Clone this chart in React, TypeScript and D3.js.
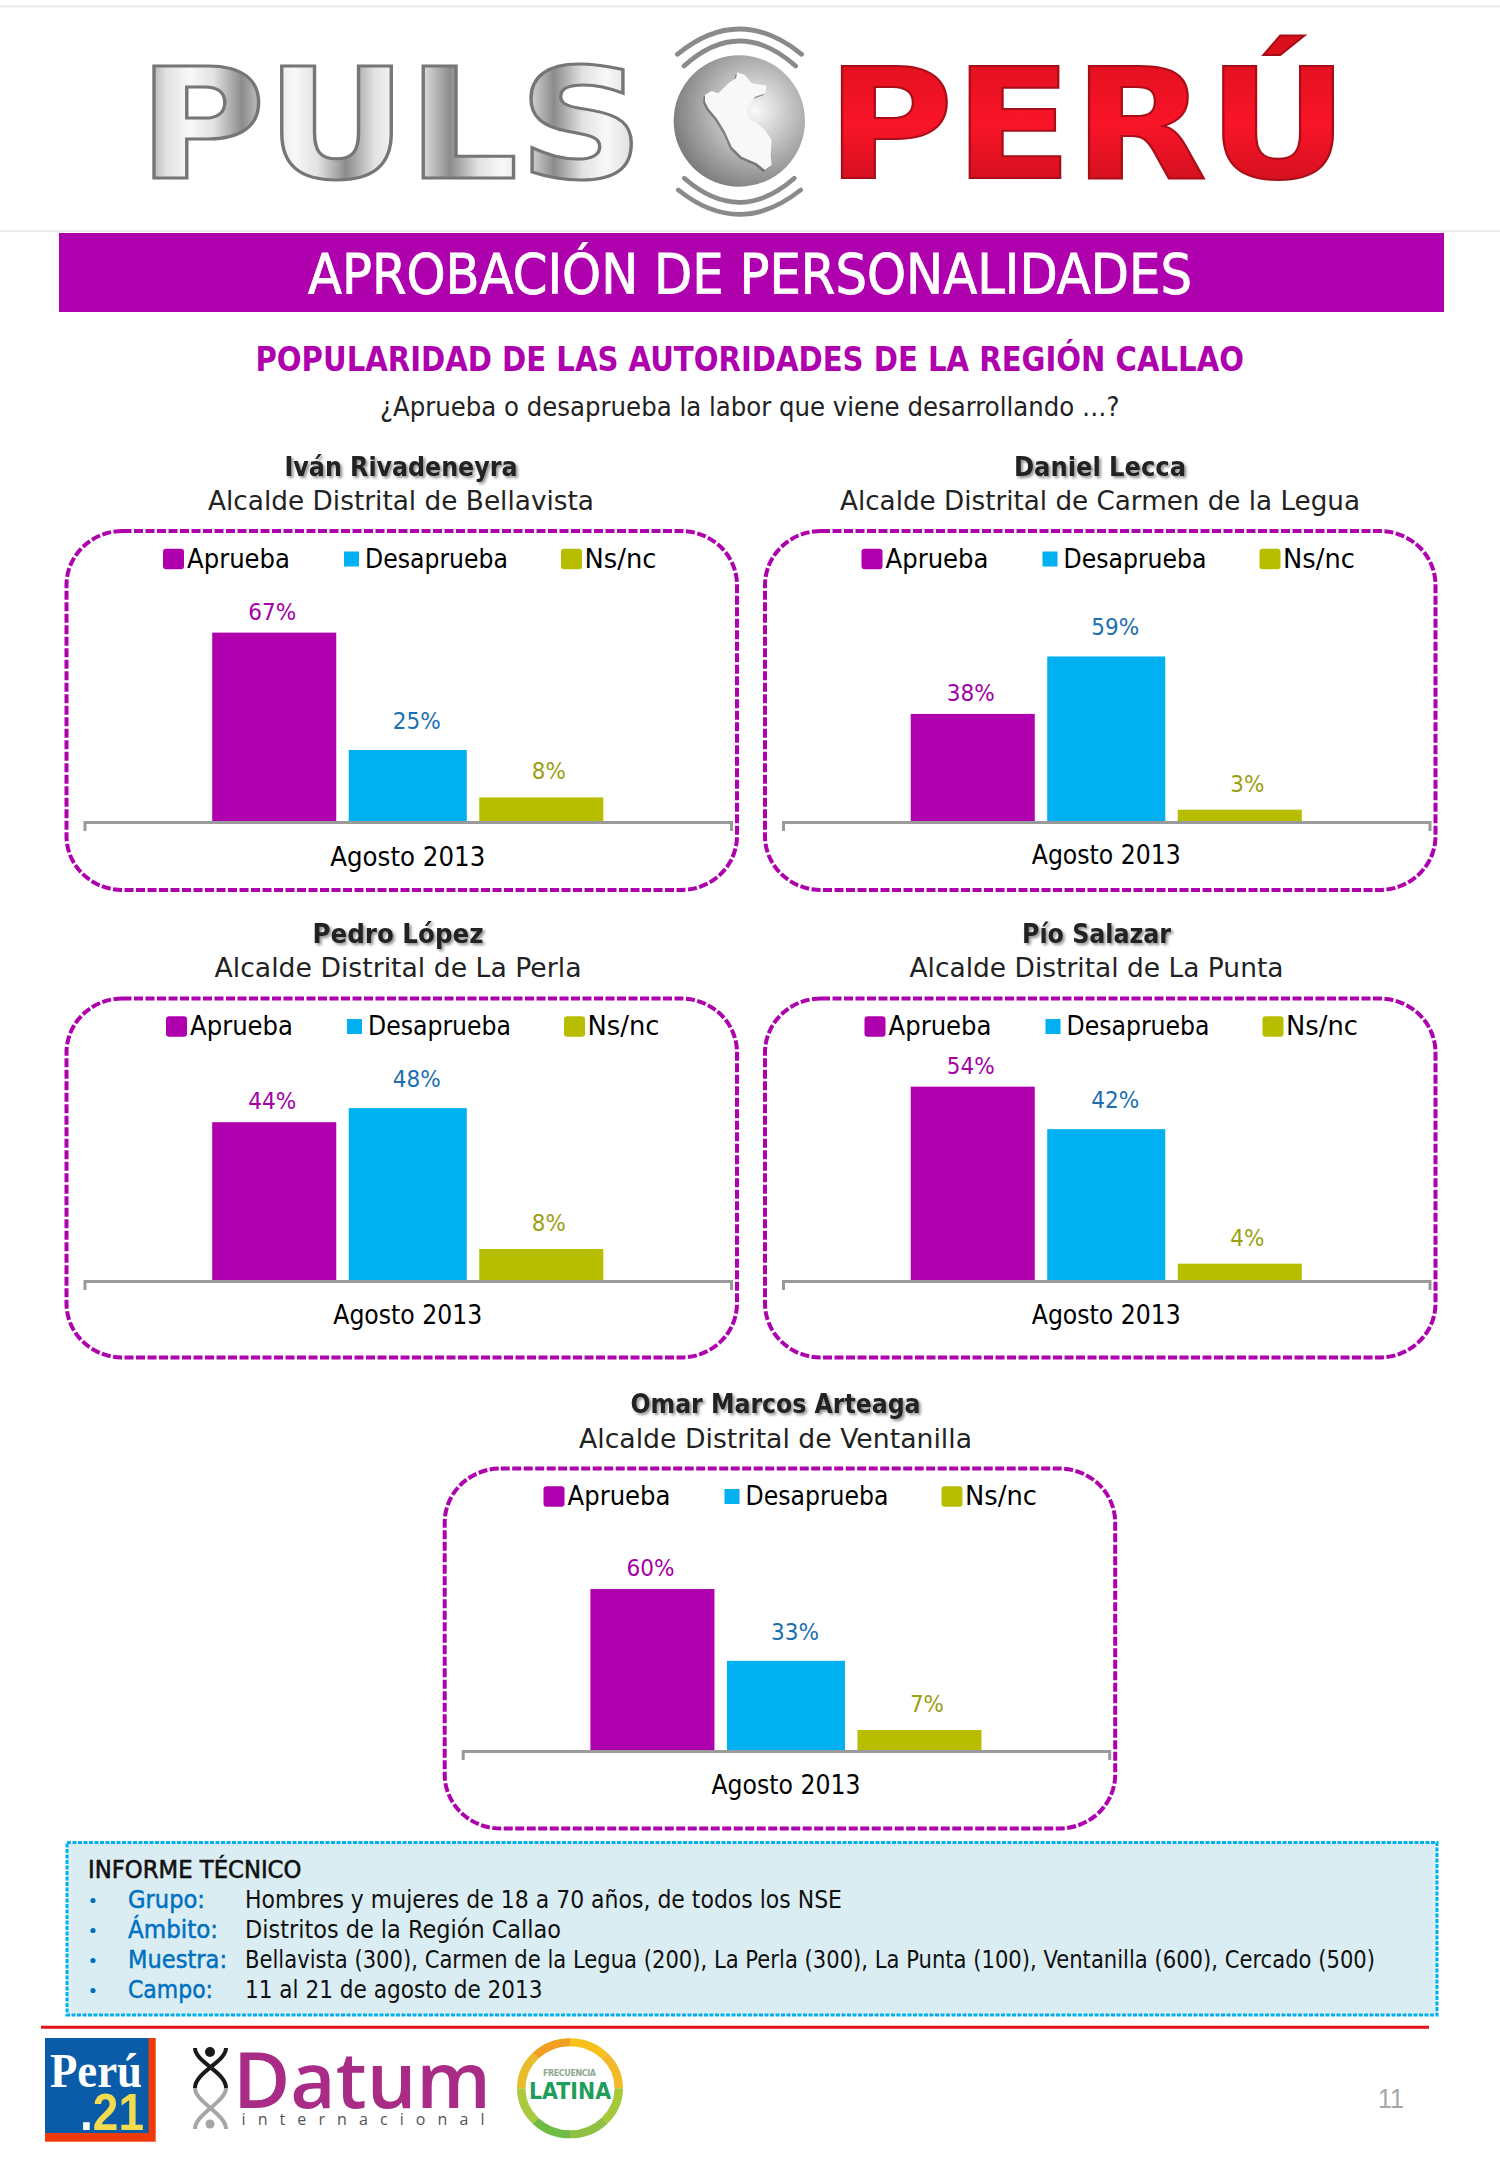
import React, { useEffect, useRef } from "react";
import * as d3 from "d3";

const seriesNames = ["Aprueba", "Desaprueba", "Ns/nc"];
const category = "Agosto 2013";

const officials = ["Iván Rivadeneyra", "Daniel Lecca", "Pedro López", "Pío Salazar", "Omar Marcos Arteaga"];
const offices = [
  "Alcalde Distrital de Bellavista",
  "Alcalde Distrital de Carmen de la Legua",
  "Alcalde Distrital de La Perla",
  "Alcalde Distrital de La Punta",
  "Alcalde Distrital de Ventanilla",
];

const aprueba = [67, 38, 44, 54, 60];
const desaprueba = [25, 59, 48, 42, 33];
const nsnc = [8, 3, 8, 4, 7];

// each little chart had its own hidden value axis in the original
const yDomains = [
  [-0.8, 70.8],
  [-1.5, 71.6],
  [-1.1, 55.7],
  [-0.9, 55.6],
  [-0.9, 74.3],
];

const fichaRows = [
  ["Grupo:", "Hombres y mujeres de 18 a 70 años, de todos los NSE"],
  ["Ámbito:", "Distritos de la Región Callao"],
  ["Muestra:", "Bellavista (300), Carmen de la Legua (200), La Perla (300), La Punta (100), Ventanilla (600), Cercado (500)"],
  ["Campo:", "11 al 21 de agosto de 2013"],
];

// layout only, no values here
const panels = [
  { boxX: 66.5, boxY: 531, boxH: 359, axisY: 822, legendX: 163, nameCx: 401, nameY: 475.7, nameW: 233, titleY: 510, titleW: 386, catDy: 44, catW: 155 },
  { boxX: 765, boxY: 531, boxH: 359, axisY: 822, legendX: 861.5, nameCx: 1100, nameY: 475.7, nameW: 172, titleY: 510, titleW: 520, catDy: 42, catW: 149 },
  { boxX: 66.5, boxY: 998.5, boxH: 359, axisY: 1281, legendX: 166, nameCx: 398, nameY: 942.7, nameW: 171, titleY: 976.7, titleW: 367, catDy: 43, catW: 149 },
  { boxX: 765, boxY: 998.5, boxH: 359, axisY: 1281, legendX: 864.5, nameCx: 1096.5, nameY: 942.7, nameW: 149, titleY: 976.7, titleW: 374, catDy: 43, catW: 149 },
  { boxX: 444.7, boxY: 1468.5, boxH: 360, axisY: 1751, legendX: 543.5, nameCx: 775.5, nameY: 1413, nameW: 290, titleY: 1448, titleW: 393, catDy: 43, catW: 149 },
];

const PURPLE = "#AF00AE";
const barColors = [PURPLE, "#00B0F0", "#B7BE00"];
const labelColors = ["#A400A8", "#1C6FB2", "#9B9F12"];
const labelDx = [-2, 9, 7.5];
const labelDy = [-13, -21, -18];
const barExtra = [2, -4, 2];
const legendItems = [
  { swatchX: 0, swatchW: 21, swatchY: 17.7, swatchH: 20.5, rx: 3, textX: 24, textW: 103 },
  { swatchX: 181, swatchW: 15, swatchY: 20.5, swatchH: 15, rx: 0, textX: 202, textW: 143 },
  { swatchX: 398, swatchW: 21, swatchY: 17.7, swatchH: 20.5, rx: 3, textX: 421.5, textW: 72 },
];

const FONT = "'DejaVu Sans', sans-serif";

const FitText = ({ x, y, w, size, fill = "#222", weight = "normal", anchor = "start", family = FONT, style, children }: any) => (
  <text
    x={x}
    y={y}
    fontSize={size}
    fill={fill}
    fontWeight={weight}
    textAnchor={anchor}
    fontFamily={family}
    textLength={w}
    lengthAdjust="spacingAndGlyphs"
    style={style}
  >
    {children}
  </text>
);

const Panel = ({ index }: { index: number }) => {
  const axisRef = useRef<SVGGElement | null>(null);
  const p = panels[index];
  const values = [aprueba[index], desaprueba[index], nsnc[index]];
  const axisLeft = p.boxX + 18;
  const axisRight = p.boxX + 664.5;

  const xCat = d3.scaleBand<string>().domain([category]).range([axisLeft, axisRight]);
  const xSeries = d3
    .scaleBand<string>()
    .domain(seriesNames)
    .range([axisLeft, axisRight])
    .paddingInner(0.086)
    .paddingOuter(0.964);
  const y = d3
    .scaleLinear()
    .domain(yDomains[index])
    .range([p.axisY, p.axisY - 200]);

  useEffect(() => {
    const g = d3.select(axisRef.current);
    g.selectAll("*").remove();
    g.call(d3.axisBottom(xCat).tickSize(0).tickSizeOuter(9).tickPadding(0));
    g.select(".domain").attr("stroke", "#9A9A9A").attr("stroke-width", 3).attr("fill", "none");
    g.selectAll(".tick text")
      .attr("y", p.catDy)
      .attr("dy", 0)
      .attr("fill", "#000")
      .attr("font-size", 26)
      .attr("font-family", FONT)
      .attr("textLength", p.catW)
      .attr("lengthAdjust", "spacingAndGlyphs");
  }, [index]);

  return (
    <g>
      <FitText
        x={p.nameCx}
        y={p.nameY}
        w={p.nameW}
        size={26}
        weight="bold"
        anchor="middle"
        style={{ filter: "drop-shadow(2px 2px 1.5px rgba(0,0,0,0.45))" }}
      >
        {officials[index]}
      </FitText>
      <FitText x={p.nameCx} y={p.titleY} w={p.titleW} size={26} anchor="middle">
        {offices[index]}
      </FitText>
      <rect
        x={p.boxX}
        y={p.boxY}
        width={670.5}
        height={p.boxH}
        rx={56}
        ry={54}
        fill="white"
        stroke={PURPLE}
        strokeWidth={4}
        strokeDasharray="9 2.5"
      />
      {seriesNames.map((name, i) => {
        const it = legendItems[i];
        return (
          <g key={name}>
            <rect
              x={p.legendX + it.swatchX}
              y={p.boxY + it.swatchY}
              width={it.swatchW}
              height={it.swatchH}
              rx={it.rx}
              fill={barColors[i]}
            />
            <FitText x={p.legendX + it.textX} y={p.boxY + 36.7} w={it.textW} size={26} fill="#000">
              {name}
            </FitText>
          </g>
        );
      })}
      {seriesNames.map((name, i) => {
        const bw = xSeries.bandwidth() + barExtra[i];
        const cx = (xSeries(name) as number) + xSeries.bandwidth() / 2;
        return (
          <g key={name}>
            <rect
              x={cx - bw / 2}
              y={y(values[i])}
              width={bw}
              height={p.axisY + 1.5 - y(values[i])}
              fill={barColors[i]}
            />
            <FitText
              x={cx + labelDx[i]}
              y={y(values[i]) + labelDy[i]}
              w={values[i] >= 10 ? 48 : 34}
              size={23}
              anchor="middle"
              fill={labelColors[i]}
            >
              {values[i]}%
            </FitText>
          </g>
        );
      })}
      <g ref={axisRef} transform={`translate(0,${p.axisY})`} />
    </g>
  );
};

const peruOutline =
  "M165 240 L185 228 L205 235 L235 205 L258 190 L262 172 L285 180 L305 205 L350 212 L345 235 L315 245 L290 285 L300 315 L320 325 L345 345 L365 375 L362 420 L365 450 L345 465 L320 445 L275 425 L245 395 L225 350 L200 310 L175 280 L165 260 Z";

const PulsLogo = () => (
  <g>
    <defs>
      <linearGradient id="chrome" gradientUnits="userSpaceOnUse" x1="138" y1="0" x2="190" y2="0" spreadMethod="reflect">
        <stop offset="0" stopColor="#8C8C8C" />
        <stop offset="0.55" stopColor="#E2E2E2" />
        <stop offset="1" stopColor="#F8F8F8" />
      </linearGradient>
      <linearGradient id="redMetal" x1="0" y1="0" x2="0" y2="1">
        <stop offset="0" stopColor="#D80F1C" />
        <stop offset="0.5" stopColor="#FA1428" />
        <stop offset="1" stopColor="#BE0F1B" />
      </linearGradient>
      <radialGradient id="globe" cx="0.62" cy="0.42" r="0.68">
        <stop offset="0" stopColor="#FAFAFA" />
        <stop offset="0.45" stopColor="#BDBDBD" />
        <stop offset="1" stopColor="#747474" />
      </radialGradient>
    </defs>
    <FitText x={138} y={177.7} w={506} size={154} weight="bold" fill="url(#chrome)" style={{ stroke: "#767676", strokeWidth: 3 }}>
      PULS
    </FitText>
    <FitText x={826} y={177.7} w={523} size={154} weight="bold" fill="url(#redMetal)" style={{ stroke: "#A80E18", strokeWidth: 2 }}>
      PERÚ
    </FitText>
    <g transform="translate(650,15) scale(0.3333)">
      <circle cx={268} cy={318} r={197} fill="url(#globe)" />
      <path d={peruOutline} fill="#555" opacity={0.6} transform="translate(-5,6)" />
      <path d={peruOutline} fill="#F8F8F8" />
      <g fill="none" stroke="#8A8A8A" strokeWidth={14} strokeLinecap="round">
        <path d="M82 118 Q268 -34 455 118" />
        <path d="M102 153 Q268 3 437 153" />
        <path d="M103 490 Q268 634 433 490" />
        <path d="M85 525 Q268 671 452 525" />
      </g>
    </g>
  </g>
);

const latinaRing = ["#F6C11B", "#F2B92A", "#A6C93A", "#8FC043", "#6EBB45", "#A9C93F", "#E8BC2B", "#F09F21"];

const FooterLogos = () => {
  const ringArc = d3.arc<number>()
    .innerRadius(42)
    .outerRadius(50)
    .startAngle((i) => (i * Math.PI) / 4)
    .endAngle(((i: number) => ((i + 1) * Math.PI) / 4) as any);
  return (
    <g>
      <rect x={45} y={2038} width={110.7} height={103.7} fill="#F03A0C" />
      <rect x={45} y={2038} width={103.6} height={95} fill="#0B5CA8" />
      <text x={50} y={2087} fontSize={48} fontFamily="'Liberation Serif', serif" fontWeight="bold" fill="white" textLength={92} lengthAdjust="spacingAndGlyphs">
        Perú
      </text>
      <text x={80} y={2130} fontSize={52} fontFamily="'Liberation Sans', sans-serif" fontWeight="bold" fill="#F2DC4E" textLength={64} lengthAdjust="spacingAndGlyphs">
        <tspan fill="white">.</tspan>21
      </text>

      <g fill="none" strokeWidth={4}>
        <path d="M195 2048 C195 2062 226 2072 226 2088 M226 2048 C226 2062 195 2072 195 2088" stroke="#1A1A1A" />
        <path d="M195 2088 C195 2102 226 2114 226 2129 M226 2088 C226 2102 195 2114 195 2129" stroke="#A8A6A2" />
      </g>
      <circle cx={210} cy={2052} r={5} fill="#1A1A1A" />
      <circle cx={210} cy={2124} r={4.5} fill="#A8A6A2" />
      <text x={233} y={2108} fontSize={78} fontFamily="'Open Sans', sans-serif" fontWeight="600" fill="#A82B86" textLength={258} lengthAdjust="spacingAndGlyphs">
        Datum
      </text>
      <text x={241.5} y={2125} fontSize={16} fontFamily="'Open Sans', sans-serif" fill="#555" textLength={243}>
        internacional
      </text>

      <g transform="translate(570,2088.3) scale(1.06,1)">
        {latinaRing.map((color, i) => (
          <path key={color} d={ringArc(i) as string} fill={color} />
        ))}
      </g>
      <text x={569.5} y={2076} fontSize={8} textAnchor="middle" fontFamily={FONT} fontWeight="bold" fill="#8FA98F" textLength={53}>
        FRECUENCIA
      </text>
      <text x={570} y={2099.3} fontSize={23} textAnchor="middle" fontFamily={FONT} fontWeight="bold" fill="#1E9E5A" textLength={82} lengthAdjust="spacingAndGlyphs">
        LATINA
      </text>
      <text x={1378} y={2107.7} fontSize={27} fontFamily="'Liberation Sans', sans-serif" fill="#A6A6A6" textLength={26} lengthAdjust="spacingAndGlyphs">
        11
      </text>
    </g>
  );
};

const labelWidths = [77, 90, 99, 85];
const valueWidths = [597, 316, 1130, 297.6];

const App = () => (
  <svg
    width={1500}
    height={2167}
    viewBox="0 0 1500 2167"
    style={{ position: "absolute", left: 0, top: 0, background: "white" }}
  >
    <line x1={0} x2={1500} y1={6.5} y2={6.5} stroke="#E6E6E6" strokeWidth={1.5} />
    <line x1={0} x2={1500} y1={231} y2={231} stroke="#E6E6E6" strokeWidth={1.5} />
    <PulsLogo />

    <rect x={59} y={233} width={1385} height={79} fill={PURPLE} />
    <FitText x={308} y={292.7} w={884} size={56} fill="white" style={{ stroke: "white", strokeWidth: 0.9 }}>
      APROBACIÓN DE PERSONALIDADES
    </FitText>
    <FitText x={255.5} y={370.7} w={988.5} size={34} weight="bold" fill={PURPLE}>
      POPULARIDAD DE LAS AUTORIDADES DE LA REGIÓN CALLAO
    </FitText>
    <FitText x={380} y={415.7} w={739.5} size={26}>
      ¿Aprueba o desaprueba la labor que viene desarrollando …?
    </FitText>

    {panels.map((_, i) => (
      <Panel key={officials[i]} index={i} />
    ))}

    <rect x={67} y={1842.5} width={1370} height={172.5} fill="#DAEDF3" stroke="#00B0F0" strokeWidth={3} strokeDasharray="4 1.5" />
    <FitText x={88} y={1878.3} w={213.4} size={24} fill="#111" style={{ stroke: "#111", strokeWidth: 0.6 }}>
      INFORME TÉCNICO
    </FitText>
    {fichaRows.map((row, i) => (
      <g key={row[0]}>
        <circle cx={93} cy={1900.5 + i * 30} r={2.6} fill="#0070C0" />
        <FitText x={128} y={1908.3 + i * 30} w={labelWidths[i]} size={24} fill="#0070C0" style={{ stroke: "#0070C0", strokeWidth: 0.5 }}>
          {row[0]}
        </FitText>
        <FitText x={245} y={1908.3 + i * 30} w={valueWidths[i]} size={24} fill="#111">
          {row[1]}
        </FitText>
      </g>
    ))}

    <line x1={41} x2={1429} y1={2027.3} y2={2027.3} stroke="#E0141B" strokeWidth={3} />
    <FooterLogos />
  </svg>
);

export default App;
